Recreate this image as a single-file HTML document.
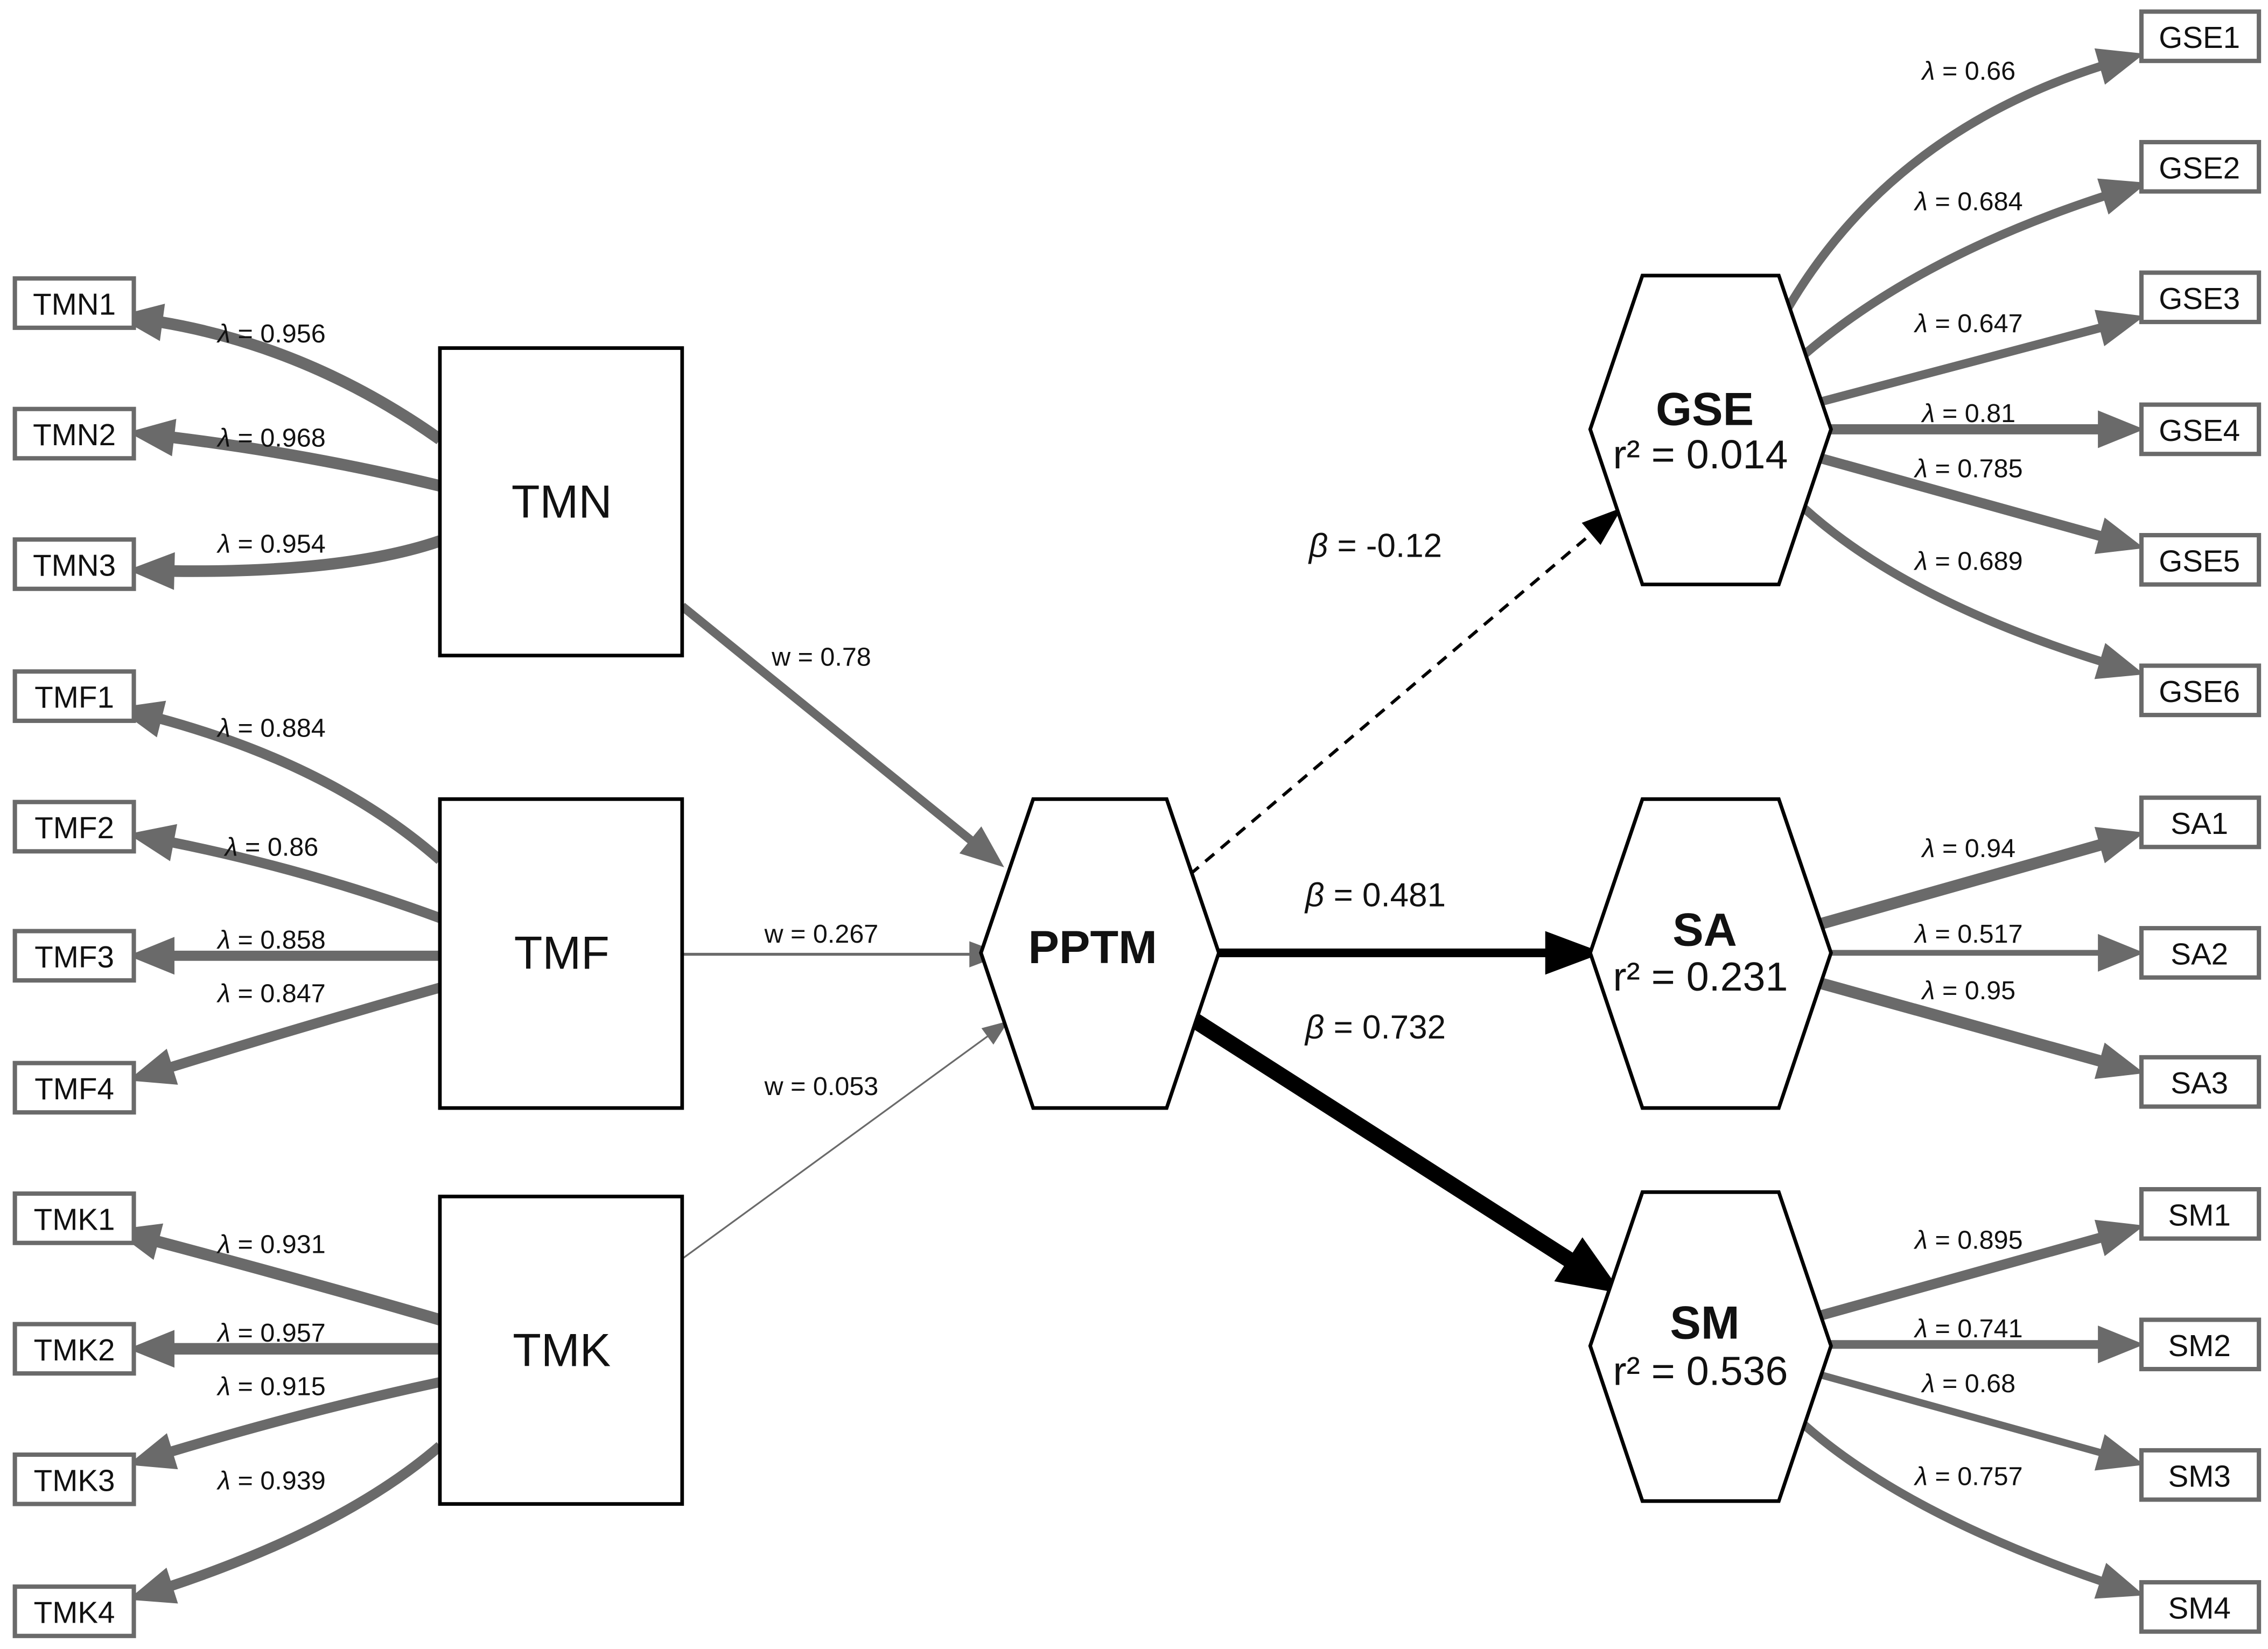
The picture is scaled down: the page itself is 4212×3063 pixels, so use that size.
<!DOCTYPE html>
<html><head><meta charset="utf-8"><style>
html,body{margin:0;padding:0;background:#fff}
svg{display:block}
text{font-family:"Liberation Sans",sans-serif;fill:#111}
.l{font-size:18px}
.b{font-size:22px}
</style></head><body>
<svg id="s" width="4212" height="3063" viewBox="0 0 1563 1137" xmlns="http://www.w3.org/2000/svg">
<rect width="1563" height="1137" fill="#fff"/>
<g id="edges" fill="none"></g>
<g id="heads"></g>
<g fill="#fff" stroke="#6a6a6a" stroke-width="3">
<rect x="10" y="192" width="82" height="34"/><rect x="10" y="282" width="82" height="34"/><rect x="10" y="372" width="82" height="34"/>
<rect x="10" y="463" width="82" height="34"/><rect x="10" y="553" width="82" height="34"/><rect x="10" y="642" width="82" height="34"/><rect x="10" y="733" width="82" height="34"/>
<rect x="10" y="823" width="82" height="34"/><rect x="10" y="913" width="82" height="34"/><rect x="10" y="1003" width="82" height="34"/><rect x="10" y="1094" width="82" height="34"/>
<rect x="1476" y="8" width="81" height="34"/><rect x="1476" y="98" width="81" height="34"/><rect x="1476" y="188" width="81" height="34"/><rect x="1476" y="279" width="81" height="34"/><rect x="1476" y="369" width="81" height="34"/><rect x="1476" y="459" width="81" height="34"/>
<rect x="1476" y="550" width="81" height="34"/><rect x="1476" y="640" width="81" height="34"/><rect x="1476" y="729" width="81" height="34"/>
<rect x="1476" y="820" width="81" height="34"/><rect x="1476" y="910" width="81" height="34"/><rect x="1476" y="1000" width="81" height="34"/><rect x="1476" y="1091" width="81" height="34"/>
</g>
<g font-size="21" text-anchor="middle">
<text x="51" y="217">TMN1</text><text x="51" y="307">TMN2</text><text x="51" y="397">TMN3</text>
<text x="51" y="488">TMF1</text><text x="51" y="578">TMF2</text><text x="51" y="667">TMF3</text><text x="51" y="758">TMF4</text>
<text x="51" y="848">TMK1</text><text x="51" y="938">TMK2</text><text x="51" y="1028">TMK3</text><text x="51" y="1119">TMK4</text>
<text x="1516" y="33">GSE1</text><text x="1516" y="123">GSE2</text><text x="1516" y="213">GSE3</text><text x="1516" y="304">GSE4</text><text x="1516" y="394">GSE5</text><text x="1516" y="484">GSE6</text>
<text x="1516" y="575">SA1</text><text x="1516" y="665">SA2</text><text x="1516" y="754">SA3</text>
<text x="1516" y="845">SM1</text><text x="1516" y="935">SM2</text><text x="1516" y="1025">SM3</text><text x="1516" y="1116">SM4</text>
</g>
<g fill="#fff" stroke="#000" stroke-width="2.5">
<rect x="303" y="240" width="167" height="212"/><rect x="303" y="551" width="167" height="213"/><rect x="303" y="825" width="167" height="212"/>
<polygon points="712,551 804,551 840,657 804,764 712,764 676,657"/>
<polygon points="1132,190 1226,190 1262,296 1226,403 1132,403 1096,296"/>
<polygon points="1132,551 1226,551 1262,657 1226,764 1132,764 1096,657"/>
<polygon points="1132,822 1226,822 1262,928 1226,1035 1132,1035 1096,928"/>
</g>
<g font-size="32" text-anchor="middle">
<text x="387" y="357">TMN</text><text x="387" y="668">TMF</text><text x="387" y="942">TMK</text>
<text x="753" y="664" font-weight="bold">PPTM</text>
<text x="1175" y="293" font-weight="bold">GSE</text><text x="1172" y="323" font-size="28">r² = 0.014</text>
<text x="1175" y="652" font-weight="bold">SA</text><text x="1172" y="683" font-size="28">r² = 0.231</text>
<text x="1175" y="923" font-weight="bold">SM</text><text x="1172" y="955" font-size="28">r² = 0.536</text>
</g>
<g class="l" text-anchor="middle">
<text x="187" y="236"><tspan font-style="italic">λ</tspan> = 0.956</text>
<text x="187" y="308"><tspan font-style="italic">λ</tspan> = 0.968</text>
<text x="187" y="381"><tspan font-style="italic">λ</tspan> = 0.954</text>
<text x="187" y="508"><tspan font-style="italic">λ</tspan> = 0.884</text>
<text x="187" y="590"><tspan font-style="italic">λ</tspan> = 0.86</text>
<text x="187" y="654"><tspan font-style="italic">λ</tspan> = 0.858</text>
<text x="187" y="691"><tspan font-style="italic">λ</tspan> = 0.847</text>
<text x="187" y="864"><tspan font-style="italic">λ</tspan> = 0.931</text>
<text x="187" y="925"><tspan font-style="italic">λ</tspan> = 0.957</text>
<text x="187" y="962"><tspan font-style="italic">λ</tspan> = 0.915</text>
<text x="187" y="1027"><tspan font-style="italic">λ</tspan> = 0.939</text>
<text x="1357" y="55"><tspan font-style="italic">λ</tspan> = 0.66</text>
<text x="1357" y="145"><tspan font-style="italic">λ</tspan> = 0.684</text>
<text x="1357" y="229"><tspan font-style="italic">λ</tspan> = 0.647</text>
<text x="1357" y="291"><tspan font-style="italic">λ</tspan> = 0.81</text>
<text x="1357" y="329"><tspan font-style="italic">λ</tspan> = 0.785</text>
<text x="1357" y="393"><tspan font-style="italic">λ</tspan> = 0.689</text>
<text x="1357" y="591"><tspan font-style="italic">λ</tspan> = 0.94</text>
<text x="1357" y="650"><tspan font-style="italic">λ</tspan> = 0.517</text>
<text x="1357" y="689"><tspan font-style="italic">λ</tspan> = 0.95</text>
<text x="1357" y="861"><tspan font-style="italic">λ</tspan> = 0.895</text>
<text x="1357" y="922"><tspan font-style="italic">λ</tspan> = 0.741</text>
<text x="1357" y="960"><tspan font-style="italic">λ</tspan> = 0.68</text>
<text x="1357" y="1024"><tspan font-style="italic">λ</tspan> = 0.757</text>
<text x="566" y="459">w = 0.78</text>
<text x="566" y="650">w = 0.267</text>
<text x="566" y="755">w = 0.053</text>
</g>
<g font-size="23" text-anchor="middle">
<text x="948" y="384"><tspan font-style="italic">β</tspan> = -0.12</text>
<text x="948" y="625"><tspan font-style="italic">β</tspan> = 0.481</text>
<text x="948" y="716"><tspan font-style="italic">β</tspan> = 0.732</text>
</g>
</svg>
<script>
var G="#6a6a6a";
// [d, width, color, headLen, headHalf, dash]
var E=[
["M303,303 Q200,230 80,218",8,G,32,13],
["M303,335 Q200,310 88,298",8,G,32,13],
["M303,373 Q230,398 88,393",8,G,32,13],
["M303,593 Q220,520 80,488",7,G,32,13],
["M303,633 Q200,595 88,575",7,G,32,13],
["M303,659 L88,659",7,G,32,13],
["M303,681 Q200,710 88,745",7,G,32,13],
["M303,910 Q200,880 78,848",8,G,32,13],
["M303,930 L88,930",8,G,32,13],
["M303,953 Q200,975 88,1010",7,G,32,13],
["M303,997 Q230,1060 88,1103",7,G,32,13],
["M1232,213 Q1310,80 1478,37",6,G,32,13],
["M1243,245 Q1330,170 1480,126",6,G,32,13],
["M1255,277 L1478,218",6,G,32,13],
["M1262,296 L1478,296",7,G,32,13],
["M1255,316 L1478,378",7,G,32,13],
["M1243,350 Q1320,420 1478,465",6,G,32,13],
["M1255,637 L1478,574",8,G,32,13],
["M1262,657 L1478,657",4,G,32,13],
["M1255,678 L1478,740",8,G,32,13],
["M1255,907 L1478,845",7,G,32,13],
["M1262,927 L1478,927",6,G,32,13],
["M1255,948 L1478,1010",5,G,32,13],
["M1243,982 Q1320,1050 1478,1100",6,G,32,13],
["M470,418 L692,598",6,G,30,12],
["M470,658 L692,658",2,G,24,9],
["M470,868 L695,704",1.2,G,18,7],
["M820,603 L1118,350",2.2,"#000",28,10,"8,6"],
["M840,657 L1105,657",6,"#000",40,15],
["M824,704 L1118,892",11,"#000",44,18]
];
var ns="http://www.w3.org/2000/svg",eg=document.getElementById("edges"),hg=document.getElementById("heads");
E.forEach(function(e){
 var p=document.createElementNS(ns,"path");p.setAttribute("d",e[0]);p.setAttribute("stroke",e[2]);p.setAttribute("stroke-width",e[1]);eg.appendChild(p);
 var L=p.getTotalLength(),t=p.getPointAtLength(L),b=p.getPointAtLength(Math.max(0,L-e[3]));
 if(e[5])p.setAttribute("stroke-dasharray",e[5]);
 var cut=document.createElementNS(ns,"path");
 // shorten
 var dx=t.x-b.x,dy=t.y-b.y,n=Math.hypot(dx,dy);dx/=n;dy/=n;
 var bx=t.x-dx*e[3],by=t.y-dy*e[3];
 if(!e[5]){p.setAttribute("stroke-dasharray",(L-e[3]+2)+","+(L+100));}
 else{/* dashed: trim by clipping end via overlay not needed */}
 var h=document.createElementNS(ns,"polygon");
 h.setAttribute("points",t.x+","+t.y+" "+(bx-dy*e[4])+","+(by+dx*e[4])+" "+(bx+dy*e[4])+","+(by-dx*e[4]));
 h.setAttribute("fill",e[2]);hg.appendChild(h);
});
</script>
</body></html>
